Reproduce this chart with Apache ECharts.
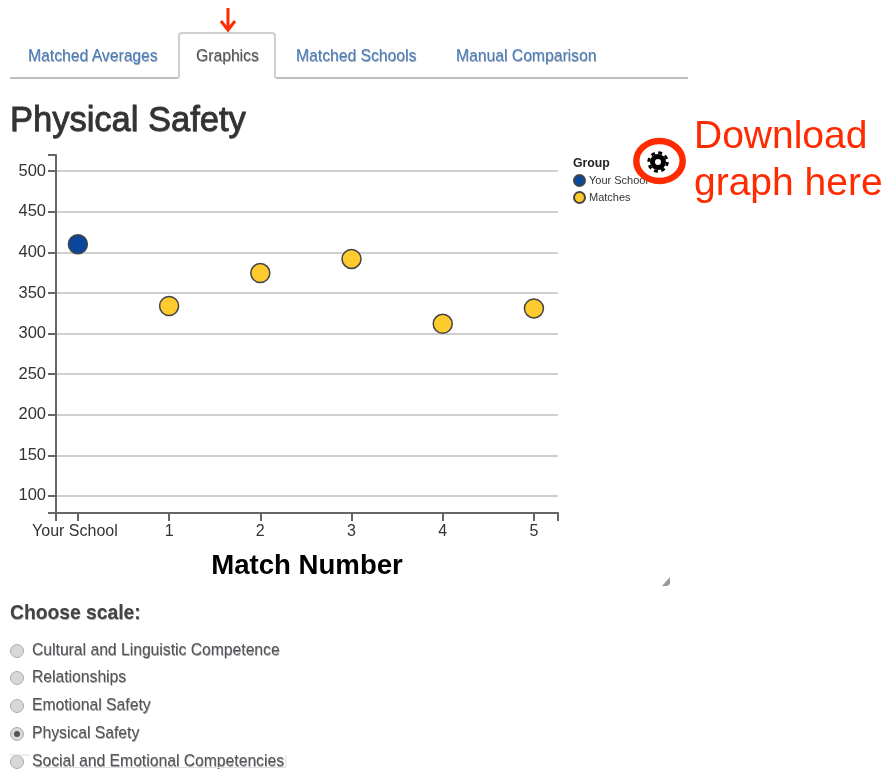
<!DOCTYPE html>
<html>
<head>
<meta charset="utf-8">
<title>Physical Safety</title>
<script src="https://cdn.jsdelivr.net/npm/echarts@6/dist/echarts.min.js"></script>
<style>
  html, body { margin: 0; padding: 0; background: #fff; }
  body { width: 885px; height: 769px; overflow: hidden; position: relative; font-family: "Liberation Sans", Arial, sans-serif; }
  #chartdiv { position: absolute; left: 0; top: 0; width: 885px; height: 769px; }
  .abs { position: absolute; white-space: nowrap; line-height: 1; text-shadow: 0.5px 0.5px 0.6px rgba(90, 90, 110, 0.55); }
  .tab { font-size: 15.7px; color: #4a7fbd; top: 48px; }
  .tabline { position: absolute; background: #bdbdbd; height: 2px; top: 77px; }
  #activetab { position: absolute; left: 178px; top: 32px; width: 98px; height: 46px; border: 2px solid #cfcfcf; border-bottom: none; border-radius: 4px 4px 0 0; box-sizing: border-box; }
  #title { left: 10px; top: 102px; font-size: 34.5px; color: #333; -webkit-text-stroke: 0.8px #333; }
  #choose { left: 10px; top: 603px; font-size: 19.3px; font-weight: bold; color: #444; }
  .opt { left: 32px; font-size: 15.7px; color: #555; }
  .radio { position: absolute; left: 10px; width: 12px; height: 12px; border-radius: 50%; border: 1px solid #aaa; background: #d8d8d8; }
  .radio.on::after { content: ""; position: absolute; left: 3px; top: 3px; width: 6px; height: 6px; border-radius: 50%; background: #555; }
  .note { left: 694px; font-size: 39px; color: #ff2a00; text-shadow: none; }
  svg.over { position: absolute; left: 0; top: 0; pointer-events: none; }
</style>
</head>
<body>
<div id="chartdiv"></div>

<div class="tabline" style="left:10px;width:168px"></div>
<div class="tabline" style="left:276px;width:412px"></div>
<div id="activetab"></div>
<div class="abs tab" style="left:28px">Matched Averages</div>
<div class="abs tab" style="left:196px;color:#555">Graphics</div>
<div class="abs tab" style="left:296px">Matched Schools</div>
<div class="abs tab" style="left:456px">Manual Comparison</div>
<div class="abs" id="title">Physical Safety</div>

<div class="abs note" style="top:115px">Download</div>
<div class="abs note" style="top:162px">graph here</div>

<div class="abs" id="choose">Choose scale:</div>
<div id="options"></div>

<svg class="over" width="885" height="769">
  <path d="M228 8V27" stroke="#ff2a00" stroke-width="3" fill="none"/>
  <path d="M221 21L228 30L235 21" stroke="#ff2a00" stroke-width="3" fill="none"/>
  <ellipse cx="659.5" cy="161" rx="23.2" ry="20" stroke="#ff2a00" stroke-width="6.5" fill="none"/>
  <circle cx="658" cy="162" r="9.3" stroke="#000" stroke-width="2.8" fill="none" stroke-dasharray="3.9 3.4"/>
  <circle cx="658" cy="162" r="5.5" stroke="#000" stroke-width="5" fill="none"/>
  <path d="M662 586L670 577V584L667 586Z" fill="#999"/>
  <path d="M30 755H10M36 767.5H286V755" stroke="#ddd" fill="none"/>
</svg>

<script>
const categories = ["Your School", "1", "2", "3", "4", "5"];
const yourSchoolValues = [410];
const matchValues = [334, 374.5, 392, 312, 331];
const yTickValues = [100, 150, 200, 250, 300, 350, 400, 450, 500];
const yMin = 79;
const yMax = 520;
const xPadLeft = 0.24;
const xPadRight = 0.264;
const scaleOptions = [
  "Cultural and Linguistic Competence",
  "Relationships",
  "Emotional Safety",
  "Physical Safety",
  "Social and Emotional Competencies"
];
const selectedScale = "Physical Safety";
const optionTops = [650, 677, 705, 733, 761];

function renderOptions() {
  const box = document.getElementById("options");
  scaleOptions.forEach((name, i) => {
    const radio = document.createElement("div");
    radio.className = name === selectedScale ? "radio on" : "radio";
    radio.style.top = `${optionTops[i] - 6}px`;
    box.appendChild(radio);
    const label = document.createElement("div");
    label.className = "abs opt";
    label.style.top = `${optionTops[i] - 8}px`;
    label.textContent = name;
    box.appendChild(label);
  });
}

function renderChart() {
  const chart = echarts.init(document.getElementById("chartdiv"));
  const xMin = -xPadLeft;
  const xMax = categories.length - 1 + xPadRight;
  const indexes = categories.map((c, i) => i);
  const axisLine = { show: true, onZero: false, lineStyle: { color: "#666", width: 2 } };
  const axisTick = { show: true, length: 8, lineStyle: { color: "#666", width: 2 } };

  chart.setOption({
    animation: false,
    textStyle: { fontFamily: "Liberation Sans" },
    grid: { left: 56, top: 155, width: 502, height: 358 },
    legend: {
      orient: "vertical",
      left: 573,
      top: 174,
      padding: 0,
      itemWidth: 11,
      itemHeight: 11,
      itemGap: 4,
      icon: "circle",
      textStyle: { fontSize: 11, color: "#333", padding: [0, 0, 0, -1] },
      data: ["Your School", "Matches"]
    },
    graphic: [{
      type: "text",
      left: 573,
      top: 158,
      style: { text: "Group", font: "bold 12.3px 'Liberation Sans'", fill: "#222" }
    }],
    xAxis: {
      type: "value",
      min: xMin,
      max: xMax,
      name: "Match Number",
      nameLocation: "middle",
      nameGap: 39,
      nameTextStyle: { fontSize: 27.6, fontWeight: "bold", color: "#000" },
      axisLine: axisLine,
      axisTick: { ...axisTick, customValues: [xMin, ...indexes, xMax] },
      axisLabel: {
        customValues: indexes,
        formatter: value => (value === 0 ? `{first|${categories[value]}}` : categories[value]),
        rich: { first: { fontSize: 16, color: "#333", padding: [0, 6, 0, 0] } },
        fontSize: 16,
        color: "#333",
        margin: 11
      },
      splitLine: { show: false }
    },
    yAxis: {
      type: "value",
      min: yMin,
      max: yMax,
      splitNumber: yTickValues.length,
      axisLine: axisLine,
      axisTick: { ...axisTick, customValues: [yMin, ...yTickValues, yMax] },
      axisLabel: {
        customValues: yTickValues,
        fontSize: 16.5,
        color: "#333",
        margin: 10
      },
      splitLine: {
        show: true,
        showMinLine: false,
        showMaxLine: false,
        lineStyle: { color: "#cfcfcf", width: 2 }
      }
    },
    series: [
      {
        name: "Your School",
        type: "scatter",
        symbolSize: 19,
        itemStyle: { color: "#0a469c", borderColor: "#444", borderWidth: 1.5, opacity: 1 },
        data: yourSchoolValues.map((v, i) => [i, v])
      },
      {
        name: "Matches",
        type: "scatter",
        symbolSize: 19,
        itemStyle: { color: "#fdcb2d", borderColor: "#444", borderWidth: 1.5, opacity: 1 },
        data: matchValues.map((v, i) => [i + yourSchoolValues.length, v])
      }
    ]
  });
}

window.onload = function() {
  renderOptions();
  renderChart();
};
</script>
</body>
</html>
